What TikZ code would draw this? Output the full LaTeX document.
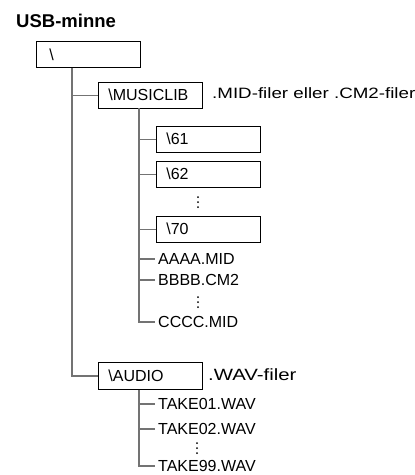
\documentclass[tikz,border=0pt]{standalone}
\usepackage{fontspec}
\setmainfont{Liberation Sans}
\newfontfamily\sidefont[FakeStretch=1.25]{Liberation Sans}
\usetikzlibrary{calc}
\begin{document}
\begin{tikzpicture}[x=1pt,y=-1pt,
  conn/.style={draw=black!55, line width=1.2pt},
  dirbox/.style={draw=black, line width=0.8pt, anchor=north west,
    minimum height=25.5pt, inner xsep=10pt, text width=84pt, align=left,
    inner ysep=0pt, font=\fontsize{16}{19}\selectfont},
  filelbl/.style={anchor=west, inner xsep=3pt, inner ysep=0pt,
    text height=11pt, text depth=0pt, font=\fontsize{16}{19}\selectfont},
  sidelbl/.style={anchor=west, inner xsep=2pt, inner ysep=0pt,
    text height=10.7pt, text depth=0pt, font=\sidefont\fontsize{15}{18}\selectfont},
  dotmark/.style={fill=black}
]
\useasboundingbox (0,0) rectangle (415,475);

\node[anchor=base west, inner sep=0pt, font=\bfseries\fontsize{18.5}{21}\selectfont] (title) at (16,27) {USB-minne};

\node[dirbox, inner xsep=13pt, text width=78pt, minimum height=26pt] (root) at (36,41) {\textbackslash};
\node[dirbox] (musiclib) at (98,82) {\textbackslash MUSICLIB};
\node[dirbox] (d61) at (156,126) {\textbackslash 61};
\node[dirbox] (d62) at (156,161) {\textbackslash 62};
\node[dirbox] (d70) at (156,216) {\textbackslash 70};
\node[dirbox, minimum height=27pt] (audio) at (98,362) {\textbackslash AUDIO};

\node[sidelbl] (midlbl) at (210,93) {.MID-filer eller .CM2-filer};
\node[sidelbl, text height=11.5pt, font=\sidefont\fontsize{16.3}{19}\selectfont] (wavlbl) at (206,375) {.WAV-filer};

\node[filelbl] (aaaa) at (155,259) {AAAA.MID};
\node[filelbl] (bbbb) at (155,280) {BBBB.CM2};
\node[filelbl] (cccc) at (155,322) {CCCC.MID};
\node[filelbl] (take01) at (155,404) {TAKE01.WAV};
\node[filelbl] (take02) at (155,429) {TAKE02.WAV};
\node[filelbl] (take99) at (155,466) {TAKE99.WAV};

\coordinate (rootstem) at ($(root.south west)+(36,0)$);
\coordinate (mstem) at ($(musiclib.south west)+(41,0)$);
\coordinate (astem) at ($(audio.south west)+(41,0)$);

\draw[conn] (rootstem) |- (musiclib.west);
\draw[conn] (rootstem) |- (audio.west);

\draw[conn] (mstem) |- (d61.west);
\draw[conn] (mstem) |- (d62.west);
\draw[conn] (mstem) |- (d70.west);
\draw[conn] (mstem) |- (aaaa.west);
\draw[conn] (mstem) |- (bbbb.west);
\draw[conn] (mstem) |- (cccc.west);

\draw[conn] (astem) |- (take01.west);
\draw[conn] (astem) |- (take02.west);
\draw[conn] (astem) |- (take99.west);

\foreach \cx/\cy in {198/202, 198/302, 197/448} {
  \foreach \dy in {-5,0,5} {
    \fill[dotmark] (\cx,\cy+\dy) circle (1pt);
  }
}
\end{tikzpicture}
\end{document}
